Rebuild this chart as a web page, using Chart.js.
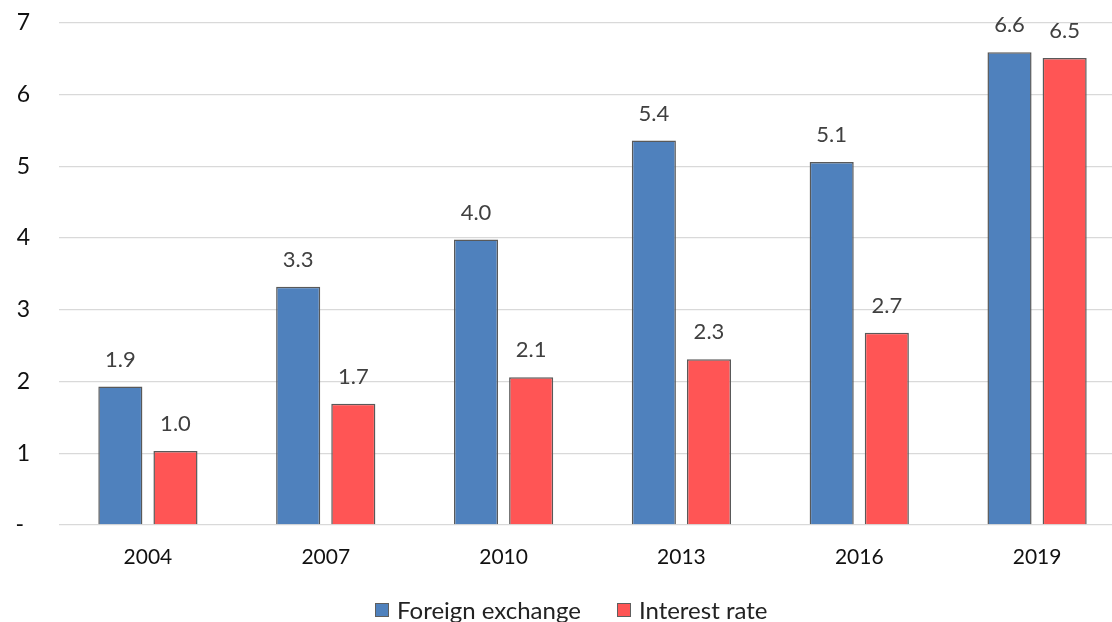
<!DOCTYPE html>
<html>
<head>
<meta charset="utf-8">
<script src="https://cdn.jsdelivr.net/npm/chart.js@4"></script>
<style>
  html,body{margin:0;padding:0;background:#fff;overflow:hidden;width:1112px;height:622px;}
  #wrap{position:absolute;left:0;top:-20px;width:1126px;height:642px;}
  #legend{position:absolute;left:375px;top:598px;display:flex;align-items:center;font-family:Lato,"Open Sans",sans-serif;font-size:24px;color:#222;white-space:nowrap;line-height:24px;}
  .item{display:flex;align-items:center;}
  .box{width:12px;height:12px;border:1.5px solid #5f5f5f;margin-right:8px;}
</style>
</head>
<body>
<div id="wrap"><canvas id="c" width="1126" height="642"></canvas></div>
<div id="legend"></div>
<script>
const categories = ['2004','2007','2010','2013','2016','2019'];
const foreignExchange = [1.93, 3.32, 3.98, 5.36, 5.06, 6.59];
const interestRate = [1.03, 1.69, 2.06, 2.31, 2.68, 6.51];
const seriesNames = ['Foreign exchange','Interest rate'];
const seriesColors = ['#4F81BD','#FF5555'];
const yTicks = [0,1,2,3,4,5,6,7];

const FONT = 'Lato, "Open Sans", sans-serif';

const valueLabels = {
  id:'valueLabels',
  afterDatasetsDraw(chart){
    const ctx = chart.ctx;
    ctx.save();
    ctx.font = '22px ' + FONT;
    ctx.fillStyle = '#404040';
    ctx.textAlign = 'center';
    ctx.textBaseline = 'middle';
    chart.data.datasets.forEach((ds,i)=>{
      chart.getDatasetMeta(i).data.forEach((bar,j)=>{
        ctx.fillText(ds.data[j].toFixed(1), bar.x, bar.y - 27);
      });
    });
    ctx.restore();
  }
};

new Chart(document.getElementById('c'), {
  type:'bar',
  data:{
    labels:categories,
    datasets:[
      {label:seriesNames[0], data:foreignExchange, backgroundColor:seriesColors[0], borderColor:'#595959', borderWidth:1.5, barPercentage:0.8, categoryPercentage:0.62},
      {label:seriesNames[1], data:interestRate, backgroundColor:seriesColors[1], borderColor:'#595959', borderWidth:1.5, barPercentage:0.8, categoryPercentage:0.62}
    ]
  },
  options:{
    responsive:false,
    animation:false,
    layout:{padding:{top:4,right:0,bottom:0,left:0}},
    plugins:{legend:{display:false}, tooltip:{enabled:false}},
    scales:{
      x:{
        grid:{display:false, drawTicks:false},
        border:{display:false},
        ticks:{font:{family:FONT,size:21}, color:'#111', padding:20},
        afterFit(s){ s.height = 97; }
      },
      y:{
        min:0, max:7,
        afterBuildTicks(s){ s.ticks = yTicks.map(v=>({value:v})); },
        grid:{color:'#d9d9d9', lineWidth:1.3, drawTicks:false},
        border:{display:false},
        ticks:{font:{family:FONT,size:23}, color:'#111', padding:29,
          callback:(v)=> v===0 ? '- ' : String(v)},
        afterFit(s){ s.width = 59; }
      }
    }
  },
  plugins:[valueLabels]
});

const lg = document.getElementById('legend');
seriesNames.forEach((n,i)=>{
  const it = document.createElement('div');
  it.className='item';
  if(i>0) it.style.marginLeft='36px';
  const b = document.createElement('div');
  b.className='box'; b.style.background=seriesColors[i];
  const t = document.createElement('span'); t.textContent=n;
  it.appendChild(b); it.appendChild(t); lg.appendChild(it);
});
</script>
</body>
</html>
